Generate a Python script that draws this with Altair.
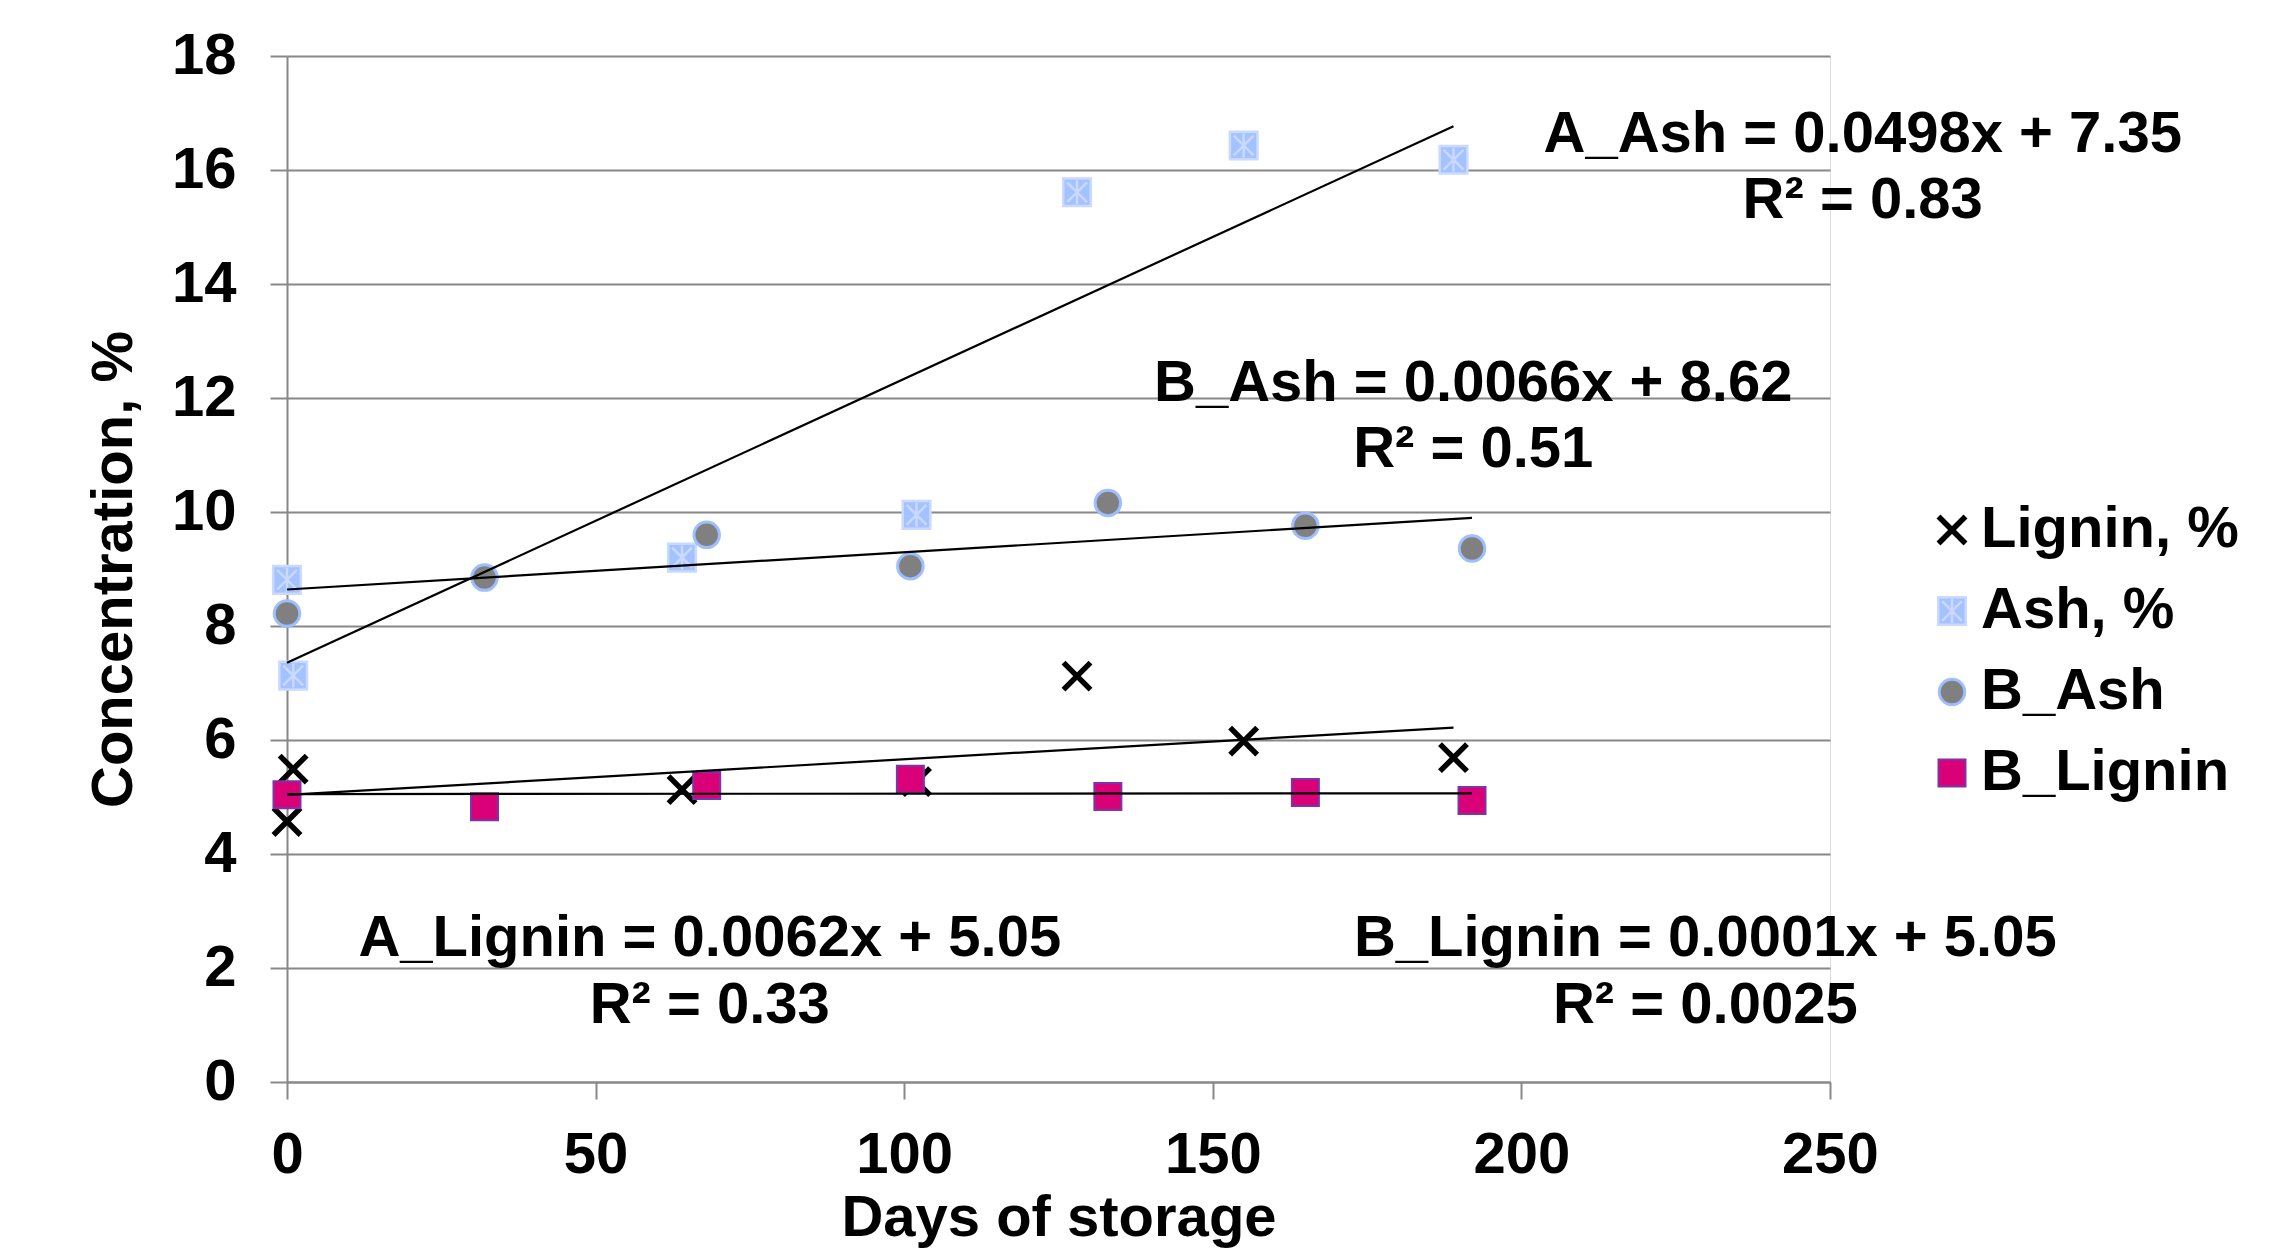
import altair as alt
import pandas as pd

# ---- data ----
series_names = ["Lignin, %", "Ash, %", "B_Ash", "B_Lignin"]

a_days = [0, 1, 64, 102, 128, 155, 189]
lignin = [4.57, 5.49, 5.13, 5.27, 7.12, 5.98, 5.69]
ash = [8.81, 7.13, 9.20, 9.95, 15.61, 16.43, 16.18]

b_days = [0, 32, 68, 101, 133, 165, 192]
b_ash = [8.22, 8.85, 9.60, 9.05, 10.16, 9.76, 9.36]
b_lignin = [5.04, 4.83, 5.20, 5.31, 5.01, 5.08, 4.94]

eq_text = ["A_Ash = 0.0498x + 7.35", "R² = 0.83",
           "B_Ash = 0.0066x + 8.62", "R² = 0.51",
           "A_Lignin = 0.0062x + 5.05", "R² = 0.33",
           "B_Lignin = 0.0001x + 5.05", "R² = 0.0025"]
eq_day = [255.3, 255.3, 192.2, 192.2, 68.5, 68.5, 229.8, 229.8]
eq_value = [16.32, 15.16, 11.95, 10.79, 2.21, 1.035, 2.21, 1.035]

x_ticks = [0, 50, 100, 150, 200, 250]
y_ticks = [0, 2, 4, 6, 8, 10, 12, 14, 16, 18]

# ---- tables ----
rows = []
for s, days, vals in [(series_names[0], a_days, lignin),
                      (series_names[1], a_days, ash),
                      (series_names[2], b_days, b_ash),
                      (series_names[3], b_days, b_lignin)]:
    for d, v in zip(days, vals):
        rows.append({"series": s, "day": d, "value": v})
df = pd.DataFrame(rows)
eq_df = pd.DataFrame({"label": eq_text, "day": eq_day, "value": eq_value})

FONT = "Liberation Sans"
FS = 58

shape_paths = [
    "M-0.9,-0.9L0.9,0.9M-0.9,0.9L0.9,-0.9",
    "M-0.92,-0.92L0.92,-0.92L0.92,0.92L-0.92,0.92Z M-0.66,-0.66L0.66,0.66 M-0.66,0.66L0.66,-0.66 M0,-0.8L0,0.8",
    "M0.85,0A0.85,0.85 0 1,1 -0.85,0A0.85,0.85 0 1,1 0.85,0Z",
    "M-0.9,-0.9L0.9,-0.9L0.9,0.9L-0.9,0.9Z",
]
fills = ["transparent", "#A4C2FF", "#808080", "#DA0077"]
strokes = ["#000000", "#C9D9FF", "#9DBEFF", "#7A35A8"]
widths = [5.5, 2.5, 3, 2]

xscale = alt.Scale(domain=[0, 250], nice=False, zero=False)
yscale = alt.Scale(domain=[0, 18], nice=False)

legend = alt.Legend(
    title=None, orient="none", legendX=1636, legendY=445,
    labelFont=FONT, labelFontSize=FS, labelFontWeight="bold", labelColor="black",
    labelLimit=0, labelOffset=0, rowPadding=23, symbolSize=900,
    symbolOpacity=1, padding=0,
)

x_axis = alt.Axis(values=x_ticks, grid=False, title="Days of storage", format="d",
                  labelFlush=False, labelOverlap=False,
                  labelFont=FONT, labelFontSize=FS, labelFontWeight="bold", labelColor="black",
                  labelPadding=27, tickSize=17, tickWidth=2, tickColor="#888888",
                  domainColor="#888888", domainWidth=2,
                  titleFont=FONT, titleFontSize=FS, titleFontWeight="bold", titleColor="black",
                  titlePadding=5)
y_axis = alt.Axis(values=y_ticks, grid=True, gridColor="#888888", gridWidth=2,
                  title="Concentration, %", format="d",
                  labelFlush=False, labelOverlap=False,
                  labelFont=FONT, labelFontSize=FS, labelFontWeight="bold", labelColor="black",
                  labelPadding=34, tickSize=17, tickWidth=2, tickColor="#888888",
                  domainColor="#888888", domainWidth=2,
                  titleFont=FONT, titleFontSize=FS, titleFontWeight="bold", titleColor="black",
                  titlePadding=28)

points = alt.Chart(df).mark_point(opacity=1).encode(
    x=alt.X("day:Q", scale=xscale, axis=x_axis),
    y=alt.Y("value:Q", scale=yscale, axis=y_axis),
    shape=alt.Shape("series:N", scale=alt.Scale(domain=series_names, range=shape_paths), legend=legend),
    fill=alt.Fill("series:N", scale=alt.Scale(domain=series_names, range=fills), legend=legend),
    stroke=alt.Stroke("series:N", scale=alt.Scale(domain=series_names, range=strokes), legend=legend),
    strokeWidth=alt.StrokeWidth("series:N", scale=alt.Scale(type="ordinal", domain=series_names, range=widths), legend=legend),
    size=alt.value(900),
    order=alt.Order("order:Q"),
).transform_calculate(
    order="indexof(['Lignin, %','Ash, %','B_Ash','B_Lignin'], datum.series)"
)

trends = alt.Chart(df).transform_regression(
    "day", "value", groupby=["series"]
).mark_line(color="black", strokeWidth=2.2).encode(
    x=alt.X("day:Q", scale=xscale),
    y=alt.Y("value:Q", scale=yscale),
    detail="series:N",
)

labels = alt.Chart(eq_df).mark_text(
    font=FONT, fontSize=FS, fontWeight="bold", color="black",
    align="center", baseline="alphabetic",
).encode(
    x=alt.X("day:Q", scale=xscale),
    y=alt.Y("value:Q", scale=yscale),
    text="label:N",
)

chart = alt.layer(points, trends, labels).properties(
    width=1543, height=1026,
    padding={"left": 279, "top": 48, "right": 437, "bottom": 169},
    autosize=alt.AutoSizeParams(type="none"),
).configure_view(stroke=None).configure(background="white")

chart.save("out.html", embed_options={"renderer": "svg", "actions": False})
